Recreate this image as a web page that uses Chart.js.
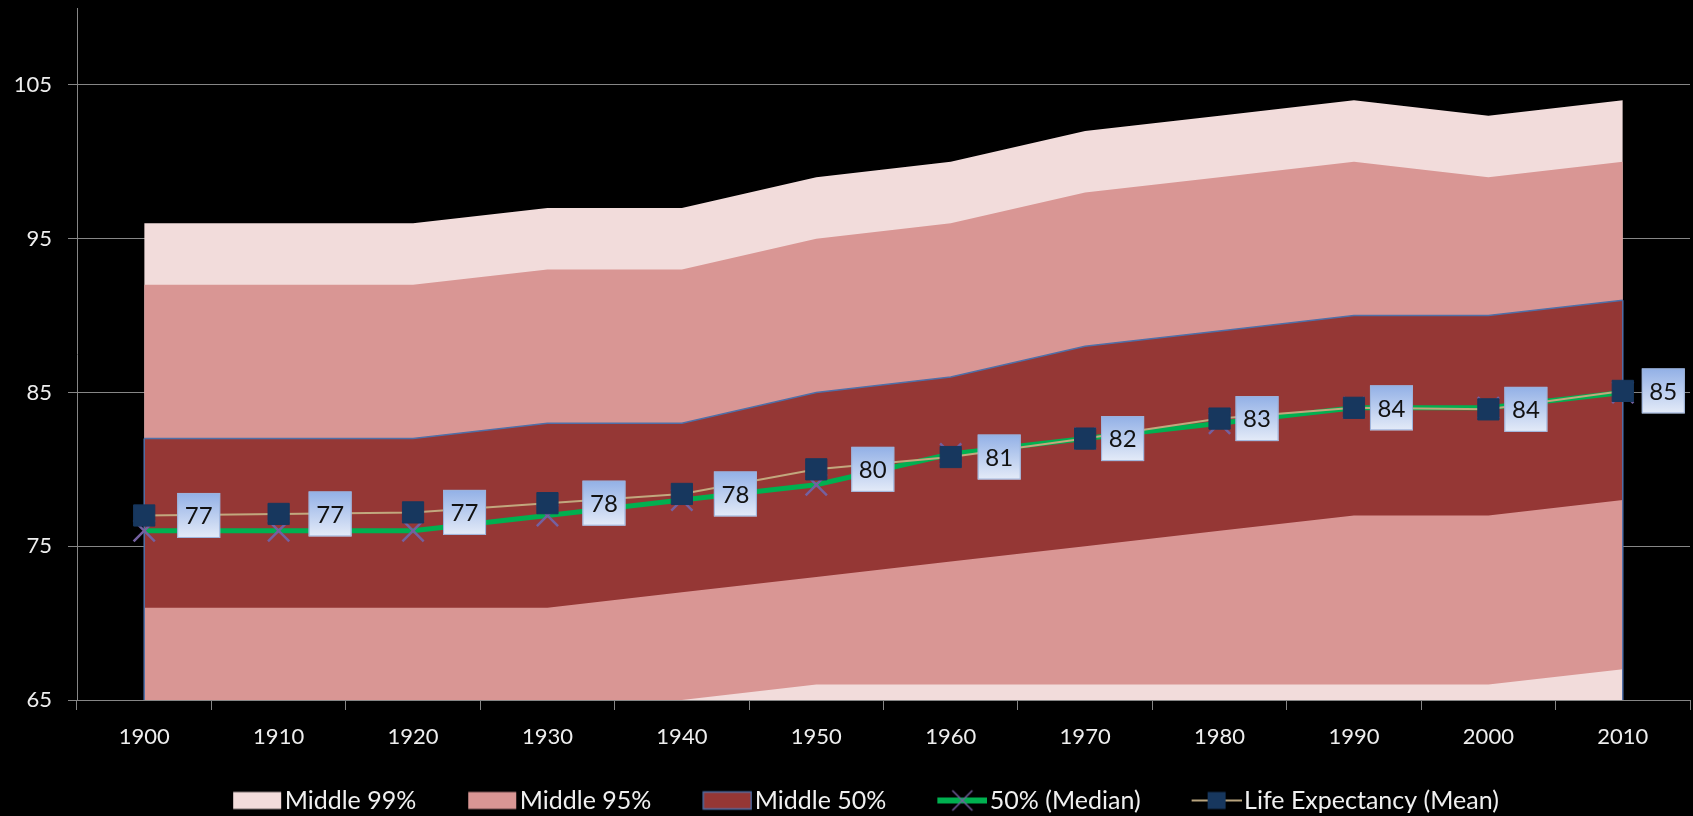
<!DOCTYPE html>
<html lang="en">
<head>
  <meta charset="UTF-8">
  <title>Life Expectancy Distribution</title>
  <script src="https://cdn.jsdelivr.net/npm/chart.js"></script>
  <style>
    body {
      margin: 0;
      background: #000;
      overflow: hidden;
    }
    .wrap {
      width: 1693px;
      height: 816px;
      position: relative;
    }
  </style>
</head>
<body>
  <div class="wrap"><canvas id="lifeChart"></canvas></div>

  <script>
    const years = ['1900', '1910', '1920', '1930', '1940', '1950', '1960', '1970', '1980', '1990', '2000', '2010'];
    const upper99 = [96, 96, 96, 97, 97, 99, 100, 102, 103, 104, 103, 104];
    const upper95 = [92, 92, 92, 93, 93, 95, 96, 98, 99, 100, 99, 100];
    const lower95 = [63, 63, 63, 64, 65, 66, 66, 66, 66, 66, 66, 67];
    const upper50 = [82, 82, 82, 83, 83, 85, 86, 88, 89, 90, 90, 91];
    const lower50 = [71, 71, 71, 71, 72, 73, 74, 75, 76, 77, 77, 78];
    const median = [76, 76, 76, 77, 78, 79, 81, 82, 83, 84, 84, 85];
    const mean = [77.0, 77.1, 77.2, 77.8, 78.4, 80.0, 80.8, 82.0, 83.3, 84.0, 83.9, 85.1];
    const yTicks = [65, 75, 85, 95, 105];

    // gap (px) between each mean marker and its value box, as placed in the original
    const labelGap = [33, 30, 30, 35, 32, 35, 27, 16, 16, 16, 16, 19];

    const GRID = '#868686';
    const FONT = 'Lato, "Open Sans", sans-serif';

    Chart.defaults.font.family = FONT;

    // legend symbols: drawn on the right 50px of a wider canvas so the gap to the text is small
    function symbol(draw) {
      const c = document.createElement('canvas');
      c.width = 101;
      c.height = 24;
      draw(c.getContext('2d'), 51);
      return c;
    }
    function areaSymbol(fill, border) {
      return symbol((g, x0) => {
        g.fillStyle = fill;
        g.fillRect(x0 + 1, 3.5, 48, 17);
        if (border) {
          g.strokeStyle = border;
          g.lineWidth = 1.5;
          g.strokeRect(x0 + 1, 3.5, 48, 17);
        }
      });
    }
    const legendSymbols = [
      areaSymbol('#f2dcdb'),
      areaSymbol('#d99694'),
      null,
      areaSymbol('#953735', '#4f6fa8'),
      null,
      symbol((g, x0) => {
        g.strokeStyle = '#00b050';
        g.lineWidth = 6;
        g.beginPath(); g.moveTo(x0, 12); g.lineTo(x0 + 50, 12); g.stroke();
        g.strokeStyle = '#7460a0';
        g.lineWidth = 1.5;
        g.beginPath();
        g.moveTo(x0 + 15, 2); g.lineTo(x0 + 35, 22);
        g.moveTo(x0 + 35, 2); g.lineTo(x0 + 15, 22);
        g.stroke();
      }),
      symbol((g, x0) => {
        g.strokeStyle = '#b9a57f';
        g.lineWidth = 2;
        g.beginPath(); g.moveTo(x0, 12); g.lineTo(x0 + 50, 12); g.stroke();
        g.fillStyle = '#17375e';
        g.fillRect(x0 + 16, 3.5, 18, 17);
      })
    ];

    const bandEdges = {
      id: 'bandEdges',
      afterDatasetDraw(chart, args) {
        if (args.index !== 3) return;
        const pts = args.meta.data;
        const ctx = chart.ctx;
        const bottom = chart.chartArea.bottom;
        ctx.save();
        ctx.strokeStyle = '#4f6fa8';
        ctx.lineWidth = 1.5;
        [pts[0], pts[pts.length - 1]].forEach(p => {
          ctx.beginPath();
          ctx.moveTo(p.x, p.y);
          ctx.lineTo(p.x, bottom);
          ctx.stroke();
        });
        ctx.restore();
      }
    };

    const meanLabels = {
      id: 'meanLabels',
      afterDatasetsDraw(chart) {
        if (!chart.isDatasetVisible(6)) return;
        const ctx = chart.ctx;
        const pts = chart.getDatasetMeta(6).data;
        ctx.save();
        pts.forEach((p, i) => {
          const w = 43, h = 45;
          const x = Math.min(p.x + labelGap[i], chart.width - w - 5);
          const y = p.y - h / 2;
          const grad = ctx.createLinearGradient(0, y, 0, y + h);
          grad.addColorStop(0, '#92b0e6');
          grad.addColorStop(1, '#e4ebf8');
          ctx.fillStyle = grad;
          ctx.fillRect(x, y, w, h);
          ctx.strokeStyle = '#9cb2da';
          ctx.lineWidth = 1;
          ctx.strokeRect(x + 0.5, y + 0.5, w - 1, h - 1);
          ctx.fillStyle = '#111';
          ctx.font = '24px ' + FONT;
          ctx.textAlign = 'center';
          ctx.textBaseline = 'middle';
          ctx.fillText(String(Math.round(mean[i])), x + w / 2, p.y + 1);
        });
        ctx.restore();
      }
    };

    const band = (label, data, color, fill, order, border) => ({
      label: label,
      data: data,
      backgroundColor: color,
      borderColor: border || 'rgba(0,0,0,0)',
      borderWidth: border ? 1.5 : 0,
      fill: fill,
      order: order,
      pointRadius: 0,
      pointHoverRadius: 0,
      tension: 0
    });

    new Chart(document.getElementById('lifeChart'), {
      type: 'line',
      data: {
        labels: years,
        datasets: [
          band('Middle 99%', upper99, '#f2dcdb', 'start', 6),
          band('Middle 95%', upper95, '#d99694', 2, 5),
          band('lower95', lower95, 'rgba(0,0,0,0)', false, 5),
          band('Middle 50%', upper50, '#953735', 4, 4, '#4f6fa8'),
          band('lower50', lower50, 'rgba(0,0,0,0)', false, 4),
          {
            label: '50% (Median)',
            data: median,
            borderColor: '#00b050',
            borderWidth: 5,
            pointStyle: 'crossRot',
            pointRadius: 15,
            pointHoverRadius: 15,
            pointBorderColor: '#7460a0',
            pointBorderWidth: 2.5,
            fill: false,
            order: 1,
            tension: 0
          },
          {
            label: 'Life Expectancy (Mean)',
            data: mean,
            borderColor: '#c2a87e',
            borderWidth: 2,
            pointStyle: 'rect',
            pointRadius: 15,
            pointHoverRadius: 15,
            pointBackgroundColor: '#17375e',
            pointBorderColor: '#17375e',
            pointBorderWidth: 1,
            fill: false,
            order: 0,
            tension: 0
          }
        ]
      },
      options: {
        responsive: true,
        maintainAspectRatio: false,
        animation: false,
        layout: {
          autoPadding: false,
          padding: { top: 8, right: 3, left: 0, bottom: 0 }
        },
        scales: {
          x: {
            offset: true,
            grid: {
              offset: true,
              drawOnChartArea: false,
              drawTicks: true,
              tickLength: 10,
              color: GRID
            },
            border: { color: GRID, width: 1 },
            ticks: {
              color: '#eeeeee',
              font: { size: 22 },
              padding: 14,
              autoSkip: false,
              maxRotation: 0
            },
            afterFit: s => {
              s.height = 78;
              s.paddingLeft = 0;
              s.paddingRight = 0;
            }
          },
          y: {
            min: 65,
            max: 110,
            afterBuildTicks: s => { s.ticks = yTicks.map(v => ({ value: v })); },
            grid: { color: GRID, tickLength: 9 },
            border: { color: GRID, width: 1 },
            ticks: {
              color: '#eeeeee',
              font: { size: 22 },
              padding: 16
            },
            afterFit: s => {
              s.width = 77;
              s.paddingTop = 0;
              s.paddingBottom = 0;
            }
          }
        },
        plugins: {
          legend: {
            position: 'bottom',
            maxHeight: 38,
            labels: {
              color: '#f0f0f0',
              font: { size: 25 },
              padding: 10,
              usePointStyle: true,
              pointStyleWidth: 81,
              generateLabels: chart => chart.data.datasets
                .map((ds, i) => ({
                  text: ds.label,
                  pointStyle: legendSymbols[i],
                  datasetIndex: i,
                  hidden: !chart.isDatasetVisible(i),
                  fontColor: '#f0f0f0',
                  lineWidth: 0,
                  strokeStyle: 'rgba(0,0,0,0)',
                  fillStyle: 'rgba(0,0,0,0)'
                }))
                .filter(item => legendSymbols[item.datasetIndex])
            }
          },
          tooltip: { mode: 'index', intersect: false }
        }
      },
      plugins: [bandEdges, meanLabels]
    });
  </script>
</body>
</html>
